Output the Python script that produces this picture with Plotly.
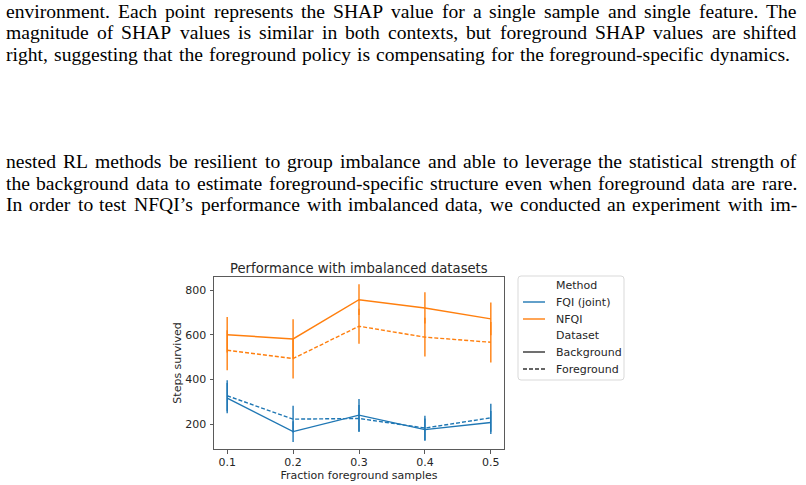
import plotly.graph_objects as go

fractions = [0.1, 0.2, 0.3, 0.4, 0.5]
x_tick_labels = ["0.1", "0.2", "0.3", "0.4", "0.5"]
y_ticks = [200, 400, 600, 800]

fqi_bg = [316, 166, 240, 175, 207]
fqi_bg_err = [68, 47, 72, 50, 52]
fqi_fg = [327, 222, 225, 182, 228]
fqi_fg_err = [70, 60, 61, 55, 63]
nfqi_bg = [601, 582, 758, 721, 672]
nfqi_bg_err = [80, 88, 69, 70, 73]
nfqi_fg = [531, 494, 639, 590, 567]
nfqi_fg_err = [90, 90, 79, 87, 91]

para1 = [
    "environment. Each point represents the SHAP value for a single sample and single feature. The",
    "magnitude of SHAP values is similar in both contexts, but foreground SHAP values are shifted",
    "right, suggesting that the foreground policy is compensating for the foreground-specific dynamics.",
]
para2 = [
    "nested RL methods be resilient to group imbalance and able to leverage the statistical strength of",
    "the background data to estimate foreground-specific structure even when foreground data are rare.",
    "In order to test NFQI\u2019s performance with imbalanced data, we conducted an experiment with im-",
]

legend_rows = ["Method", "FQI (joint)", "NFQI", "Dataset", "Background", "Foreground"]

BLUE = "#1f77b4"
ORANGE = "#ff7f0e"
FONT = "DejaVu Sans"
TXT = "#262626"
W, H = 806, 485

# Times (Liberation Serif) advance widths, per 1000 em
TIMES = dict(zip("abcdefghijklmnopqrstuvwxyz",
                 [444, 500, 444, 500, 444, 333, 500, 500, 278, 278, 500, 278, 778,
                  500, 500, 500, 500, 333, 389, 278, 500, 500, 722, 500, 500, 444]))
TIMES.update(zip("ABCDEFGHIJKLMNOPQRSTUVWXYZ",
                 [722, 667, 667, 722, 611, 556, 722, 722, 333, 389, 722, 611, 889,
                  722, 722, 556, 722, 667, 556, 611, 722, 722, 944, 722, 722, 611]))
TIMES.update({".": 250, ",": 250, "-": 333, "\u2019": 333, ":": 278, "(": 333, ")": 333})


def px(x):
    return x / W


def py(y):
    return 1 - y / H


fig = go.Figure()


def add_series(y, err, color, dash):
    fig.add_trace(go.Scatter(
        x=fractions, y=y, mode="lines",
        line=dict(color=color, width=1.4, dash=dash),
        error_y=dict(type="data", array=err, visible=True, width=0,
                     thickness=1.4, color=color),
        showlegend=False, hoverinfo="skip"))


DASH = "4px,2px"
add_series(nfqi_bg, nfqi_bg_err, ORANGE, "solid")
add_series(nfqi_fg, nfqi_fg_err, ORANGE, DASH)
add_series(fqi_bg, fqi_bg_err, BLUE, "solid")
add_series(fqi_fg, fqi_fg_err, BLUE, DASH)

annotations = []
shapes = []

# justified body text
SIZE = 19.6


def place_line(line, ymid, left, right):
    words = line.split(" ")
    widths = [sum(TIMES.get(c, 500) for c in w) * SIZE / 1000 for w in words]
    gap = (right - left - sum(widths)) / (len(words) - 1)
    x = left
    for w, wd in zip(words, widths):
        annotations.append(dict(text=w, x=px(x + wd / 2), y=py(ymid), xref="paper", yref="paper",
                                showarrow=False, xanchor="center", yanchor="middle",
                                font=dict(family="Liberation Serif", size=SIZE, color="black")))
        x += wd + gap


p1_y = [11.5, 33, 54.5]
p1_r = [797, 797, 790]
for line, yy, rr in zip(para1, p1_y, p1_r):
    place_line(line, yy, 6, rr)
p2_y = [161.5, 183, 204.5]
p2_r = [797, 797, 797]
for line, yy, rr in zip(para2, p2_y, p2_r):
    place_line(line, yy, 6, rr)

# chart title
annotations.append(dict(text="Performance with imbalanced datasets", x=px(359), y=py(268),
                        xref="paper", yref="paper", showarrow=False, xanchor="center",
                        yanchor="middle", font=dict(family=FONT, size=13.2, color=TXT)))

# manual legend (matplotlib style)
bx0, bx1, by0, by1, r = 518, 624, 276, 380, 3
shapes.append(dict(
    type="path", xref="paper", yref="paper",
    path=(f"M {px(bx0 + r)} {py(by0)} L {px(bx1 - r)} {py(by0)} "
          f"Q {px(bx1)} {py(by0)} {px(bx1)} {py(by0 + r)} L {px(bx1)} {py(by1 - r)} "
          f"Q {px(bx1)} {py(by1)} {px(bx1 - r)} {py(by1)} L {px(bx0 + r)} {py(by1)} "
          f"Q {px(bx0)} {py(by1)} {px(bx0)} {py(by1 - r)} L {px(bx0)} {py(by0 + r)} "
          f"Q {px(bx0)} {py(by0)} {px(bx0 + r)} {py(by0)} Z"),
    line=dict(color="#d9d9d9", width=1), fillcolor="white", layer="above"))
row_y = [285, 302, 319, 335.5, 352, 369]
handle = [None, (BLUE, "solid"), (ORANGE, "solid"), None, ("#333333", "solid"), ("#333333", DASH)]
for name, yy, hd in zip(legend_rows, row_y, handle):
    annotations.append(dict(text=name, x=px(554), y=py(yy), xref="paper", yref="paper",
                            showarrow=False, xanchor="left", yanchor="middle",
                            font=dict(family=FONT, size=11, color=TXT)))
    if hd:
        shapes.append(dict(type="line", xref="paper", yref="paper",
                           x0=px(523), x1=px(545), y0=py(yy), y1=py(yy),
                           line=dict(color=hd[0], width=1.4, dash=hd[1]), layer="above"))

fig.update_layout(
    width=W, height=H,
    margin=dict(l=0, r=0, t=0, b=0),
    paper_bgcolor="white", plot_bgcolor="white",
    annotations=annotations, shapes=shapes,
    showlegend=False,
    xaxis=dict(domain=[px(214), px(504)], range=[0.08, 0.52],
               tickvals=fractions, ticktext=x_tick_labels,
               showline=True, mirror=True, linecolor="#5a5a5a", linewidth=1,
               ticks="outside", ticklen=3.5, tickcolor="#5a5a5a", showgrid=False, zeroline=False,
               ticklabelstandoff=-1,
               tickfont=dict(family=FONT, size=11, color=TXT),
               title=dict(text="Fraction foreground samples", standoff=0,
                          font=dict(family=FONT, size=11, color=TXT))),
    yaxis=dict(domain=[py(449), py(277)], range=[88, 860],
               tickvals=y_ticks,
               showline=True, mirror=True, linecolor="#5a5a5a", linewidth=1,
               ticks="outside", ticklen=3.5, tickcolor="#5a5a5a", showgrid=False, zeroline=False,
               ticklabelstandoff=1,
               tickfont=dict(family=FONT, size=11, color=TXT),
               title=dict(text="Steps survived", standoff=1,
                          font=dict(family=FONT, size=11, color=TXT))),
)

fig.write_html("out.html")
